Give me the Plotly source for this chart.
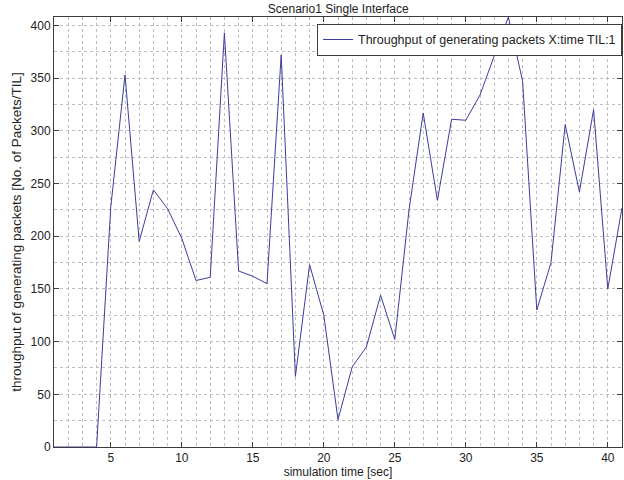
import plotly.graph_objects as go

time_sec = list(range(1, 42))
throughput = [0, 0, 0, 0, 228, 353, 195, 244, 226, 198,
              158, 161, 393, 167, 162, 155, 372, 67, 173, 125,
              26, 76, 95, 144, 102, 225, 317, 234, 311, 310,
              334, 370, 408, 347, 130, 175, 306, 242, 320, 150,
              227]
x_ticks = [5, 10, 15, 20, 25, 30, 35, 40]
y_ticks = [0, 50, 100, 150, 200, 250, 300, 350, 400]

font_family = "Liberation Sans, Arial, sans-serif"
grid_col = "#bdbdbd"

fig = go.Figure()
fig.add_trace(go.Scatter(
    x=time_sec, y=throughput, mode="lines",
    name="Throughput of generating packets X:time TIL:1",
    line=dict(color="#3c3ca0", width=1),
))

axis_common = dict(
    showline=True, linecolor="#3c3c3c", linewidth=1, mirror="ticks",
    ticks="inside", ticklen=5, tickcolor="#3c3c3c",
    showgrid=True, gridcolor=grid_col, griddash="dot", gridwidth=1,
    zeroline=False, automargin=False,
    tickfont=dict(family=font_family, size=12, color="#222222"),
)

fig.update_layout(
    width=624, height=480,
    margin=dict(l=54, r=2, t=17, b=33, autoexpand=False),
    paper_bgcolor="white", plot_bgcolor="white",
    font=dict(family=font_family, size=12, color="#222222"),
    title=dict(text="Scenario1 Single Interface", x=0.542, xanchor="center",
               y=0.981, yref="container", yanchor="middle",
               font=dict(family=font_family, size=12, color="#222222")),
    showlegend=True,
    legend=dict(x=1, xanchor="right", y=0.984, yanchor="top",
                bordercolor="#3c3c3c", borderwidth=1, bgcolor="white",
                font=dict(family=font_family, size=12.5, color="#222222"),
                tracegroupgap=0),
    xaxis=dict(range=[1, 41], tickvals=x_ticks,
               minor=dict(dtick=1, tick0=0, showgrid=True, gridcolor=grid_col,
                          griddash="dot", gridwidth=1, ticks=""),
               title=dict(text="simulation time [sec]", standoff=2,
                          font=dict(family=font_family, size=12, color="#222222")),
               **axis_common),
    yaxis=dict(range=[0, 408], tickvals=y_ticks,
               minor=dict(dtick=25, tick0=0, showgrid=True, gridcolor=grid_col,
                          griddash="dot", gridwidth=1, ticks=""),
               title=dict(text="throughput of generating packets [No. of Packets/TIL]",
                          standoff=5,
                          font=dict(family=font_family, size=13.5, color="#222222")),
               **axis_common),
)

fig.write_html("out.html",
               config={"displayModeBar": False},
               post_script="document.body.style.margin='0';document.body.style.padding='0';")
